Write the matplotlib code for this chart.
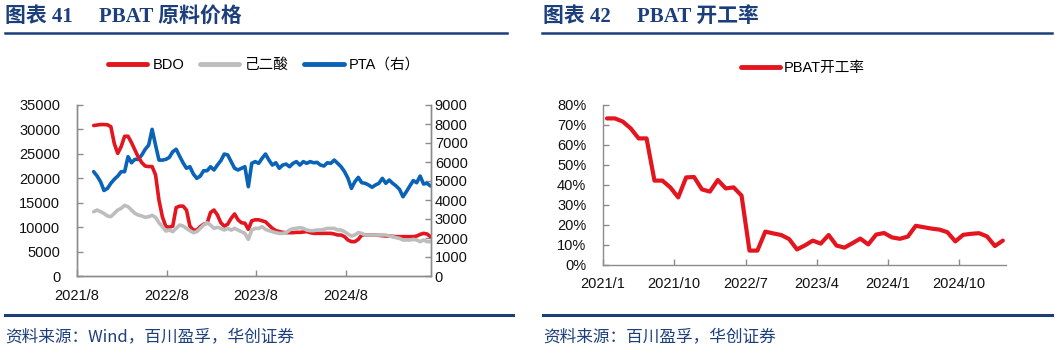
import matplotlib
matplotlib.use('Agg')
import matplotlib.pyplot as plt
import pandas as pd
from matplotlib.lines import Line2D

plt.rcParams['font.family'] = ['Liberation Sans', 'Noto Sans CJK SC']

# ---------------- data: left chart (biweekly prices) ----------------
price_dates = pd.date_range('2021-10-08', periods=99, freq='14D')
bdo = [30800, 30900, 31000, 31000, 30950, 30550, 27100, 25100, 26500, 28600,
       28600, 27300, 25800, 24300, 23200, 22500, 22400, 22400, 20700, 15500,
       12100, 10100, 10000, 10200, 14000, 14300, 14300, 13500, 10200, 9400,
       9400, 10100, 10600, 10800, 13000, 13500, 12500, 10900, 10200, 10600,
       11800, 12700, 11500, 10900, 10800, 9550, 11300, 11500, 11500, 11300,
       11100, 10400, 9750, 9300, 9100, 8930, 8870, 8870, 8870, 8930,
       8930, 9000, 9100, 8870, 8730, 8730, 8730, 8730, 8730, 8730,
       8600, 8390, 8390, 8050, 7370, 7030, 7030, 7500, 8390, 8390,
       8390, 8390, 8390, 8320, 8250, 8180, 8180, 8120, 8050, 8050,
       8050, 8050, 8050, 8050, 8180, 8520, 8730, 8600, 8050]
adipic = [13160, 13500, 13160, 12800, 12280, 12140, 12820, 13500, 13840, 14460,
          14190, 13500, 12820, 12480, 12280, 12000, 12140, 12410, 12000, 10900,
          10090, 9200, 9410, 9070, 9750, 10430, 10230, 9750, 9280, 8870,
          9070, 9750, 10430, 10910, 10430, 9750, 9960, 9750, 9410, 9750,
          9410, 9750, 9410, 9070, 8730, 7500, 9410, 9750, 9750, 10090,
          9550, 9280, 9070, 8870, 8730, 8730, 8870, 9410, 9680, 9750,
          9890, 9750, 9410, 9280, 9280, 9410, 9410, 9550, 9750, 9750,
          9750, 9410, 9410, 9070, 8590, 8180, 8390, 8870, 8730, 8390,
          8390, 8390, 8390, 8390, 8390, 8390, 8180, 8050, 7840, 7700,
          7370, 7370, 7370, 7500, 7370, 7030, 7370, 7030, 7030]
pta = [5490, 5260, 4960, 4500, 4610, 4880, 5090, 5260, 5490, 5490,
       6280, 5960, 6140, 6140, 6370, 6670, 6890, 7720, 6890, 6100,
       6100, 6140, 6240, 6540, 6670, 6310, 5960, 5670, 5750, 5370,
       5140, 5260, 5540, 5540, 5750, 5580, 5840, 6070, 6420, 6370,
       6020, 5670, 5580, 5670, 5750, 4700, 5930, 6020, 5930, 6190,
       6420, 6100, 5840, 5960, 5670, 5840, 5890, 5750, 5930, 6020,
       5840, 6020, 5930, 6020, 5960, 5980, 5840, 5790, 5960, 5930,
       6100, 5930, 5750, 5490, 5140, 4610, 4960, 5190, 4910, 4880,
       4790, 4670, 4790, 4880, 5140, 4880, 5050, 4880, 4740, 4560,
       4170, 4440, 4740, 5020, 4910, 5260, 4840, 4880, 4740]
price_ticks = ['2021-08-01', '2022-08-01', '2023-08-01', '2024-08-01']
price_tick_labels = ['2021/8', '2022/8', '2023/8', '2024/8']
left_series_names = ['BDO', '己二酸', 'PTA（右）']

# ---------------- data: right chart (monthly operating rate, %) ----------------
rate_months = pd.period_range('2021-01', periods=51, freq='M')
rate = [73.3, 73.3, 71.7, 68.3, 63.3, 63.3, 42.2, 42.2, 38.8, 33.8,
        43.8, 44.0, 37.8, 36.7, 42.5, 38.3, 38.8, 34.7, 7.2, 7.2,
        16.7, 15.8, 15.0, 13.0, 7.8, 9.8, 12.2, 10.7, 15.0, 9.7,
        8.7, 10.9, 13.2, 10.3, 15.2, 16.0, 13.8, 13.1, 14.2, 19.6,
        18.9, 18.2, 17.7, 16.4, 11.8, 15.1, 15.6, 15.9, 14.3, 9.5, 12.2]
rate_tick_labels = ['2021/1', '2021/10', '2022/7', '2023/4', '2024/1', '2024/10']
rate_name = 'PBAT开工率'

# ---------------- styles ----------------
RED = '#E3151E'
GRAY = '#BDBDBD'
BLUE = '#0B63B7'
NAVY = '#1C3F7C'
SPINE = '#8C8C8C'
FS = 10.5
W, H = 1055, 353

fig = plt.figure(figsize=(W / 100, H / 100), dpi=100)

def fx(px):
    return px / W

def fy(py):
    return 1 - py / H

title_font = ['Liberation Serif', 'Noto Sans CJK SC']
fig.text(fx(5), fy(17), '图表 41     PBAT 原料价格', fontsize=15, fontweight='bold',
         color=NAVY, family=title_font, va='center', ha='left')
fig.text(fx(543), fy(17), '图表 42     PBAT 开工率', fontsize=15, fontweight='bold',
         color=NAVY, family=title_font, va='center', ha='left')
for x0, x1 in [(5, 507), (542, 1052)]:
    fig.add_artist(Line2D([fx(x0), fx(x1)], [fy(32.5), fy(32.5)], color=NAVY, lw=1.8))
for x0, x1 in [(5, 513), (543, 1052)]:
    fig.add_artist(Line2D([fx(x0), fx(x1)], [fy(315), fy(315)], color=NAVY, lw=2.2))
fig.text(fx(5), fy(337), '资料来源：Wind，百川盈孚，华创证券', fontsize=12,
         color=NAVY, va='center', ha='left', family=['Noto Sans CJK SC'])
fig.text(fx(543), fy(337), '资料来源：百川盈孚，华创证券', fontsize=12,
         color=NAVY, va='center', ha='left', family=['Noto Sans CJK SC'])

# ---------------- left chart ----------------
axL = fig.add_axes([fx(77), fy(276), fx(430.7) - fx(77), fy(105) - fy(276)])
axR = axL.twinx()
axL.set_zorder(axR.get_zorder() + 1)
axL.patch.set_visible(False)

lb, = axL.plot(price_dates, bdo, color=RED, lw=2.6, solid_capstyle='round')
lg, = axL.plot(price_dates, adipic, color=GRAY, lw=2.6, solid_capstyle='round')
lp, = axR.plot(price_dates, pta, color=BLUE, lw=2.6, solid_capstyle='round')

axL.set_xlim(pd.Timestamp('2021-08-01'), pd.Timestamp('2025-07-12'))
axL.set_ylim(0, 35000)
axR.set_ylim(0, 9000)
axL.set_yticks(range(0, 35001, 5000))
axR.set_yticks(range(0, 9001, 1000))
axL.set_xticks(pd.to_datetime(price_ticks))
axL.set_xticklabels(price_tick_labels)

for a in (axL, axR):
    a.spines['top'].set_visible(False)
    for s in ('left', 'right', 'bottom'):
        a.spines[s].set_color(SPINE)
        a.spines[s].set_linewidth(1.0)
    a.tick_params(direction='in', length=4, width=1, color=SPINE, labelsize=FS,
                  labelcolor='#111111')
axL.tick_params(axis='y', pad=12)
axL.tick_params(axis='x', pad=9)
axR.tick_params(axis='y', pad=3)

fig.legend([lb, lg, lp], left_series_names, loc='center', bbox_to_anchor=(fx(264), fy(65)),
           ncol=3, frameon=False, fontsize=FS, handlelength=2.7, handletextpad=0.35,
           columnspacing=1.1, borderaxespad=0)
for h in fig.legends[-1].legend_handles:
    h.set_linewidth(3.5)

# ---------------- right chart ----------------
ax2 = fig.add_axes([fx(603), fy(265), fx(1006) - fx(603), fy(105) - fy(265)])
pos = [i + 0.5 for i in range(len(rate_months))]
lr, = ax2.plot(pos, rate, color=RED, lw=3.0, solid_capstyle='round', solid_joinstyle='round')
ax2.set_xlim(0, 50.9)
ax2.set_ylim(0, 80)
ax2.set_yticks(range(0, 81, 10))
ax2.set_yticklabels([f'{v}%' for v in range(0, 81, 10)])
ax2.set_xticks([0, 9, 18, 27, 36, 45])
ax2.set_xticklabels(rate_tick_labels)
ax2.spines['top'].set_visible(False)
ax2.spines['right'].set_visible(False)
for s in ('left', 'bottom'):
    ax2.spines[s].set_color(SPINE)
    ax2.spines[s].set_linewidth(1.0)
ax2.tick_params(direction='in', length=4, width=1, color=SPINE, labelsize=FS,
                labelcolor='#111111')
ax2.tick_params(axis='y', pad=12)
ax2.tick_params(axis='x', pad=9)

fig.legend([lr], [rate_name], loc='center', bbox_to_anchor=(fx(803), fy(68)),
           frameon=False, fontsize=FS, handlelength=2.7, handletextpad=0.25, borderaxespad=0)
for h in fig.legends[-1].legend_handles:
    h.set_linewidth(3.5)

fig.savefig('out.png', dpi=100)
